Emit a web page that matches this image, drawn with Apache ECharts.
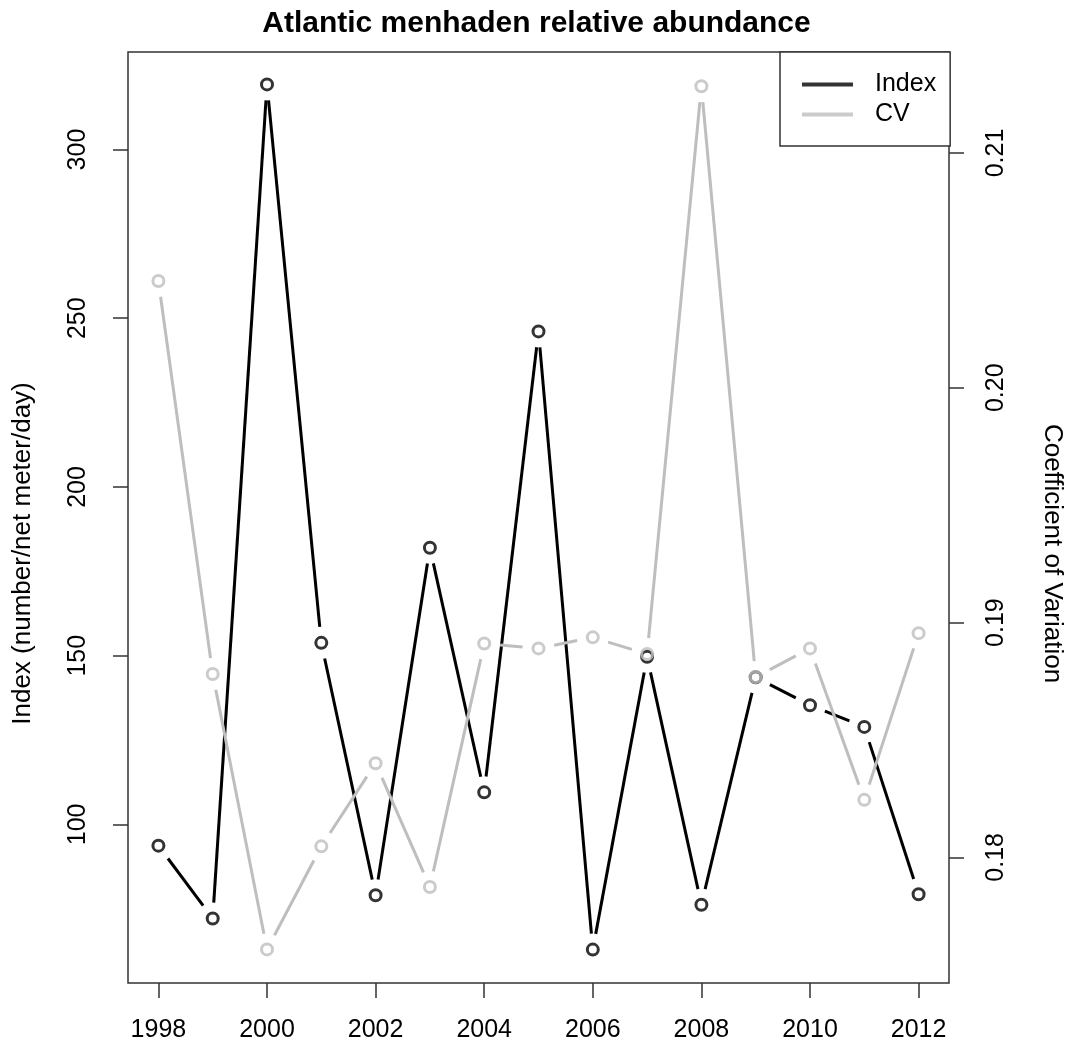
<!DOCTYPE html>
<html>
<head>
<meta charset="utf-8">
<script src="https://cdn.jsdelivr.net/npm/echarts@6/dist/echarts.min.js"></script>
<style>
html,body{margin:0;padding:0;background:#fff;}
#chart{width:1073px;height:1049px;}
</style>
</head>
<body>
<div id="chart"></div>
<script>
// ---- data ----
const years = [1998,1999,2000,2001,2002,2003,2004,2005,2006,2007,2008,2009,2010,2011,2012];
const indexValues = [93.7,72.1,319.3,153.8,79.0,182.0,109.5,246.1,62.9,149.7,76.2,143.6,135.3,128.9,79.3];
const cvValues = [0.20455,0.18781,0.17608,0.18047,0.18401,0.17874,0.18911,0.18890,0.18937,0.18866,0.21284,0.18768,0.18890,0.18245,0.18955];
const xTickLabels = [1998,2000,2002,2004,2006,2008,2010,2012];
const leftTickLabels = [100,150,200,250,300];
const rightTickLabels = [0.18,0.19,0.20,0.21];

const FONT = "'Liberation Sans', Arial, sans-serif";
const GAP = 16;

function segData(vals){
  const out = [];
  for (let i = 0; i < years.length - 1; i++) out.push([years[i], vals[i], years[i+1], vals[i+1]]);
  return out;
}
function gapRenderer(color){
  return function(params, api){
    const p0 = api.coord([api.value(0), api.value(1)]);
    const p1 = api.coord([api.value(2), api.value(3)]);
    const dx = p1[0]-p0[0], dy = p1[1]-p0[1];
    const len = Math.sqrt(dx*dx+dy*dy);
    if (len <= 2*GAP) return null;
    const ux = dx/len, uy = dy/len;
    return {
      type: 'line',
      shape: {x1: p0[0]+ux*GAP, y1: p0[1]+uy*GAP, x2: p1[0]-ux*GAP, y2: p1[1]-uy*GAP},
      style: {stroke: color, lineWidth: 3, lineCap: 'butt'}
    };
  };
}

const chart = echarts.init(document.getElementById('chart'));
const option = {
  animation: false,
  backgroundColor: '#fff',
  textStyle: {fontFamily: FONT},
  title: {
    text: 'Atlantic menhaden relative abundance',
    left: 'center', top: 9, padding: 0,
    textStyle: {fontFamily: FONT, fontSize: 30, fontWeight: 'bold', color: '#000'}
  },
  legend: {
    orient: 'vertical',
    left: 780, top: 52,
    padding: [20, 14, 19, 22],
    itemWidth: 51, itemHeight: 4, itemGap: 5,
    backgroundColor: '#fff', borderColor: '#333', borderWidth: 1.5,
    textStyle: {fontFamily: FONT, fontSize: 25, color: '#000', padding: [0,0,0,17]},
    data: [
      {name: 'Index', icon: 'rect', itemStyle: {color: '#000', borderWidth: 0}},
      {name: 'CV', icon: 'rect', itemStyle: {color: '#bebebe', borderWidth: 0}}
    ]
  },
  grid: {left: 128, right: 123, top: 52, bottom: 66, show: true, borderColor: '#333', borderWidth: 1.5, backgroundColor: 'transparent', containLabel: false},
  xAxis: {
    type: 'value', min: 1997.44, max: 2012.56,
    splitLine: {show: false},
    axisLine: {show: false},
    axisTick: {show: true, customValues: xTickLabels, length: 15, lineStyle: {color: '#333', width: 1.5}},
    axisLabel: {customValues: xTickLabels, fontSize: 25, color: '#000', margin: 35, fontFamily: FONT, formatter: v => String(v)}
  },
  yAxis: [
    {
      type: 'value', min: 53.0, max: 328.9, position: 'left',
      name: 'Index (number/net meter/day)', nameLocation: 'middle', nameGap: 92, nameRotate: 90,
      nameTextStyle: {fontSize: 26, color: '#000', fontFamily: FONT, padding: [0, 72, 0, 0]},
      splitLine: {show: false},
      axisLine: {show: false},
      axisTick: {show: true, customValues: leftTickLabels, length: 15, lineStyle: {color: '#333', width: 1.5}},
      axisLabel: {customValues: leftTickLabels, rotate: 90, fontSize: 25, color: '#000', margin: 37, fontFamily: FONT, formatter: v => String(v)}
    },
    {
      type: 'value', min: 0.17465, max: 0.2143, position: 'right',
      name: 'Coefficient of Variation', nameLocation: 'middle', nameGap: 90, nameRotate: -90,
      nameTextStyle: {fontSize: 26, color: '#000', fontFamily: FONT, padding: [0, 0, 0, 72]},
      splitLine: {show: false},
      axisLine: {show: false},
      axisTick: {show: true, customValues: rightTickLabels, length: 15, lineStyle: {color: '#333', width: 1.5}},
      axisLabel: {customValues: rightTickLabels, rotate: 90, fontSize: 25, color: '#000', margin: 35, fontFamily: FONT, formatter: v => v.toFixed(2)}
    }
  ],
  series: [
    {
      name: 'IndexLine', type: 'custom', xAxisIndex: 0, yAxisIndex: 0,
      renderItem: gapRenderer('#000'), data: segData(indexValues),
      encode: {x: [0,2], y: [1,3]}, silent: true, z: 2
    },
    {
      name: 'Index', type: 'scatter', xAxisIndex: 0, yAxisIndex: 0,
      data: years.map((y,i) => [y, indexValues[i]]),
      symbol: 'circle', symbolSize: 11,
      itemStyle: {color: 'rgba(0,0,0,0)', borderColor: '#000', borderWidth: 3},
      z: 3
    },
    {
      name: 'CVLine', type: 'custom', xAxisIndex: 0, yAxisIndex: 1,
      renderItem: gapRenderer('#bebebe'), data: segData(cvValues),
      encode: {x: [0,2], y: [1,3]}, silent: true, z: 4
    },
    {
      name: 'CV', type: 'scatter', xAxisIndex: 0, yAxisIndex: 1,
      data: years.map((y,i) => [y, cvValues[i]]),
      symbol: 'circle', symbolSize: 11,
      itemStyle: {color: 'rgba(0,0,0,0)', borderColor: '#bebebe', borderWidth: 3},
      z: 5
    }
  ]
};
chart.setOption(option);
</script>
</body>
</html>
